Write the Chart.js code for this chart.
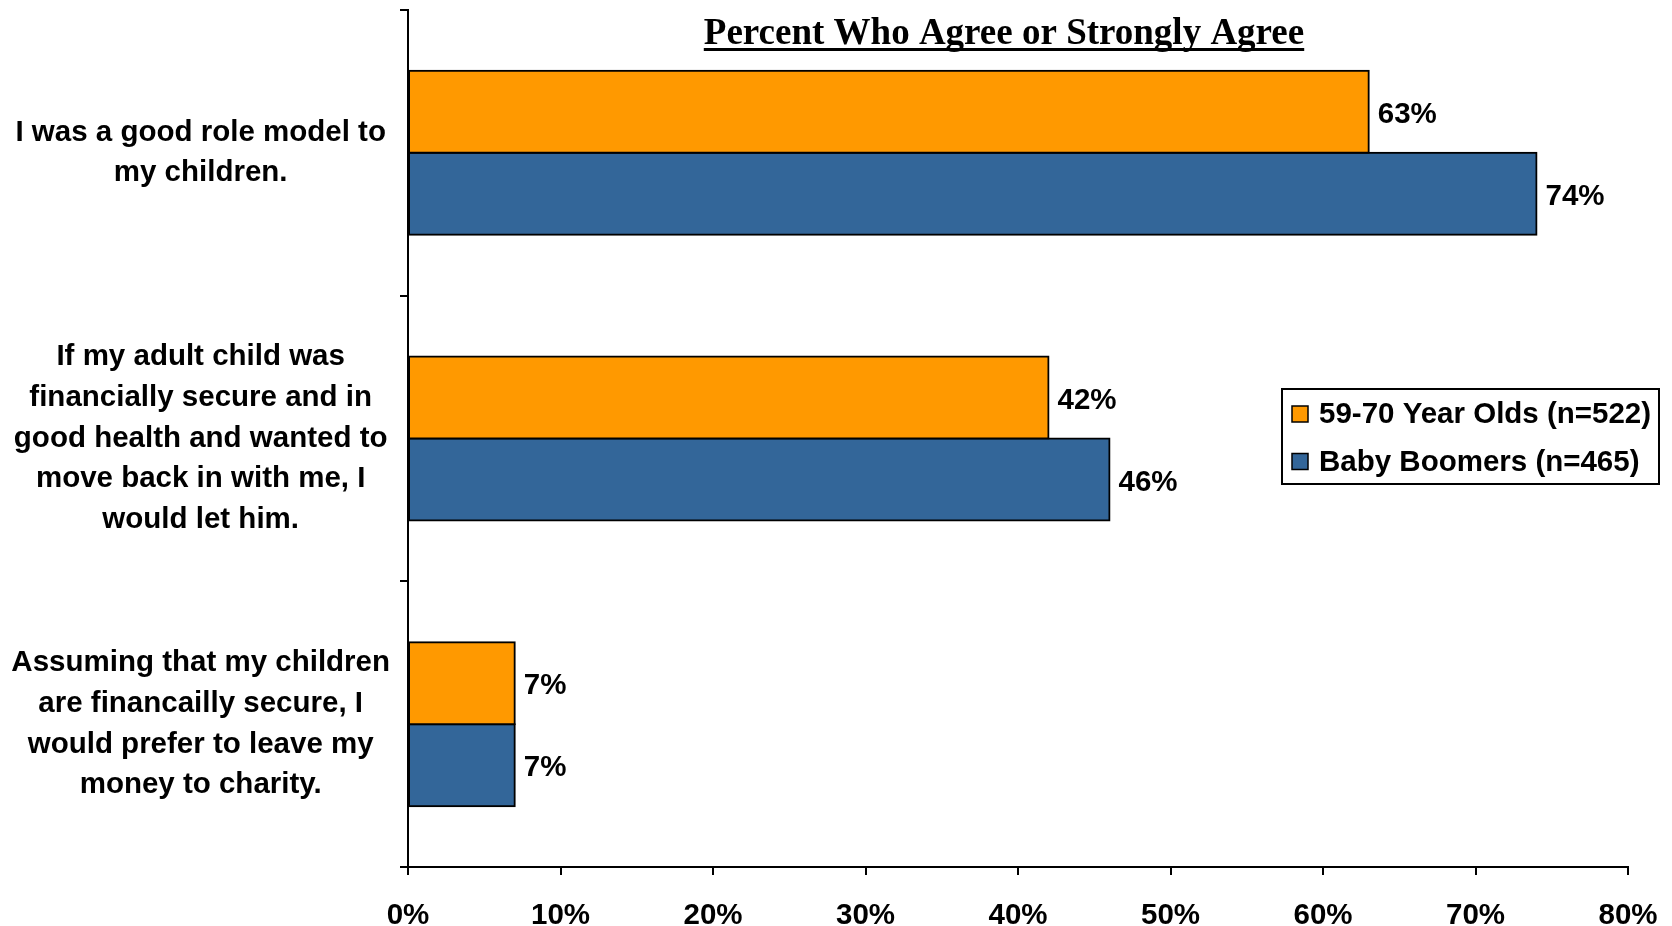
<!DOCTYPE html>
<html>
<head>
<meta charset="utf-8">
<title>Percent Who Agree or Strongly Agree</title>
<script src="https://cdn.jsdelivr.net/npm/chart.js@4.4.1/dist/chart.umd.min.js"></script>
<style>
  html, body { margin: 0; padding: 0; background: #fff; }
  #wrap { position: relative; width: 1672px; height: 926px; }
</style>
</head>
<body>
<div id="wrap"><canvas id="agreeChart"></canvas></div>
<script>
/* ── Data ── */
const categories = [
  ['I was a good role model to', 'my children.'],
  ['If my adult child was', 'financially secure and in', 'good health and wanted to', 'move back in with me, I', 'would let him.'],
  ['Assuming that my children', 'are financailly secure, I', 'would prefer to leave my', 'money to charity.']
];
const seriesNames  = ['59-70 Year Olds (n=522)', 'Baby Boomers (n=465)'];
const olderValues  = [63, 42, 7];
const boomerValues = [74, 46, 7];
const xTicks       = [0, 10, 20, 30, 40, 50, 60, 70, 80];
const chartTitle   = 'Percent Who Agree or Strongly Agree';

const ORANGE = '#FF9900';
const BLUE   = '#336699';
const SANS   = '"Liberation Sans", Arial, sans-serif';
const SERIF  = '"Liberation Serif", "Times New Roman", serif';

/* ── Title (underlined) ── */
const titlePlugin = {
  id: 'underlinedTitle',
  afterDraw(chart) {
    const { ctx, chartArea } = chart;
    const x = chartArea.left + 596;
    const y = 44;
    ctx.save();
    ctx.font = 'bold 37px ' + SERIF;
    ctx.fillStyle = '#000';
    ctx.textAlign = 'center';
    ctx.textBaseline = 'alphabetic';
    ctx.fillText(chartTitle, x, y);
    const w = ctx.measureText(chartTitle).width;
    ctx.fillRect(x - w / 2, y + 4, w, 3);
    ctx.restore();
  }
};

/* ── Value labels at bar ends ── */
const valueLabels = {
  id: 'valueLabels',
  afterDatasetsDraw(chart) {
    const { ctx } = chart;
    ctx.save();
    ctx.font = 'bold 29.5px ' + SANS;
    ctx.fillStyle = '#000';
    ctx.textAlign = 'left';
    ctx.textBaseline = 'middle';
    chart.data.datasets.forEach((ds, i) => {
      chart.getDatasetMeta(i).data.forEach((bar, j) => {
        ctx.fillText(ds.data[j] + '%', bar.x + 9, bar.y + 3);
      });
    });
    ctx.restore();
  }
};

/* ── Boxed legend inside the plot ── */
const boxLegend = {
  id: 'boxLegend',
  afterDraw(chart) {
    const { ctx, chartArea } = chart;
    const left = chartArea.right - 346, top = 389, w = 377, h = 95;
    ctx.save();
    ctx.fillStyle = '#fff';
    ctx.fillRect(left, top, w, h);
    ctx.lineWidth = 2;
    ctx.strokeStyle = '#000';
    ctx.strokeRect(left, top, w, h);
    ctx.font = 'bold 29.5px ' + SANS;
    ctx.textAlign = 'left';
    ctx.textBaseline = 'middle';
    chart.data.datasets.forEach((ds, i) => {
      const cy = top + 25 + i * 47.5;
      ctx.fillStyle = ds.backgroundColor;
      ctx.fillRect(left + 10, cy - 8, 16, 16);
      ctx.lineWidth = 1.5;
      ctx.strokeRect(left + 10, cy - 8, 16, 16);
      ctx.fillStyle = '#000';
      ctx.fillText(ds.label, left + 37, cy + 1);
    });
    ctx.restore();
  }
};

new Chart(document.getElementById('agreeChart'), {
  type: 'bar',
  data: {
    labels: categories,
    datasets: [
      { label: seriesNames[0], data: olderValues,  backgroundColor: ORANGE },
      { label: seriesNames[1], data: boomerValues, backgroundColor: BLUE }
    ]
  },
  options: {
    indexAxis: 'y',
    responsive: true,
    maintainAspectRatio: false,
    animation: false,
    devicePixelRatio: 1,
    layout: { padding: { left: 0, right: 44, top: 10, bottom: 0 } },
    datasets: {
      bar: {
        categoryPercentage: 0.574,
        barPercentage: 1,
        borderColor: '#000',
        borderWidth: 2,
        borderSkipped: false,
        inflateAmount: 1
      }
    },
    plugins: {
      legend: { display: false },
      tooltip: { enabled: false },
      title: { display: false }
    },
    scales: {
      x: {
        min: 0,
        max: 80,
        afterBuildTicks: scale => { scale.ticks = xTicks.map(v => ({ value: v })); },
        afterFit: scale => {
          scale.height = 59;
          scale.paddingLeft = 0;
          scale.paddingRight = 0;
        },
        grid: { drawOnChartArea: false, color: '#000', lineWidth: 2, tickLength: 8 },
        border: { display: true, color: '#000', width: 2 },
        ticks: {
          color: '#000',
          padding: 23,
          font: { family: SANS, size: 29.5, weight: 'bold' },
          callback: v => v + '%'
        }
      },
      y: {
        afterFit: scale => {
          scale.width = 408;
          scale.paddingTop = 0;
          scale.paddingBottom = 0;
        },
        grid: { drawOnChartArea: false, color: '#000', lineWidth: 2, tickLength: 8, offset: true },
        border: { display: true, color: '#000', width: 2 },
        ticks: {
          color: '#000',
          padding: 10,
          crossAlign: 'center',
          font: { family: SANS, size: 29.5, weight: 'bold', lineHeight: 1.38 }
        }
      }
    }
  },
  plugins: [valueLabels, titlePlugin, boxLegend]
});
</script>
</body>
</html>
